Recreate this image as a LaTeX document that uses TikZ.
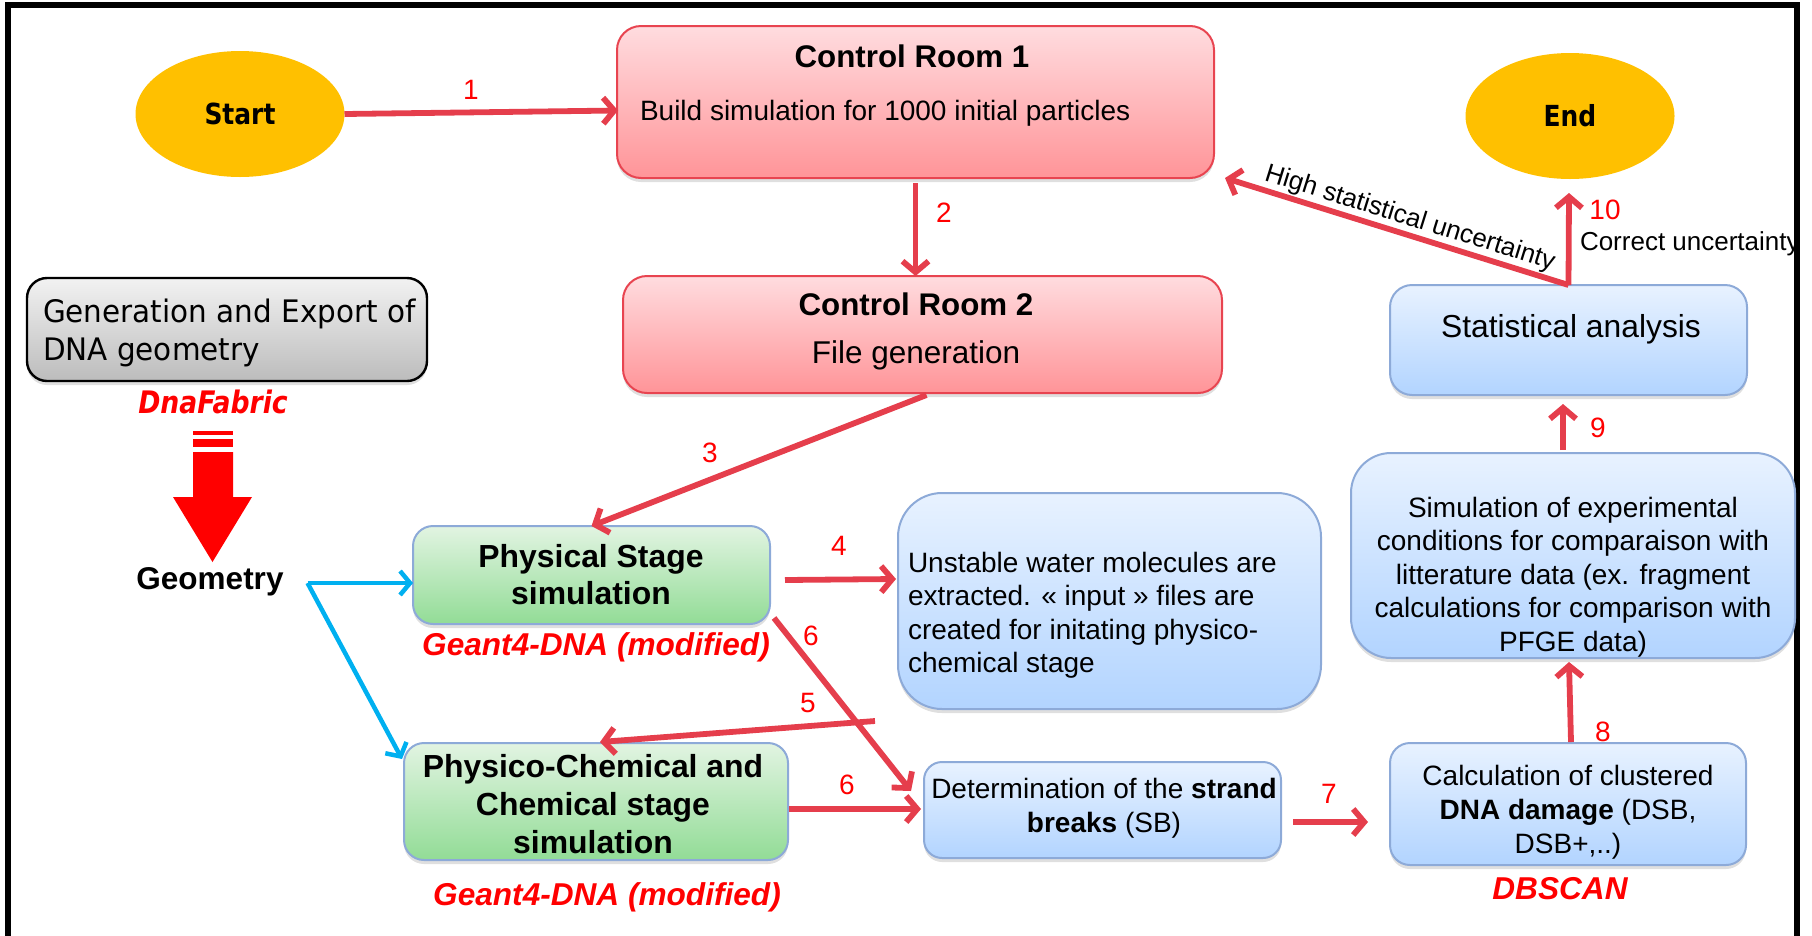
\documentclass[tikz,border=0pt]{standalone}
\usepackage{fontspec}
\setmainfont{Liberation Sans}
\newfontfamily\tahreg[FakeStretch=0.95]{DejaVu Sans}
\newfontfamily\tahbold[FakeStretch=0.86]{DejaVu Sans}
\usetikzlibrary{arrows.meta,shapes.geometric,shadows,calc}
\definecolor{arrred}{RGB}{229,62,76}
\definecolor{lblred}{RGB}{255,0,0}
\definecolor{yel}{RGB}{255,192,0}
\definecolor{pinktop}{RGB}{255,220,223}
\definecolor{pinkbot}{RGB}{255,148,152}
\definecolor{pinkline}{RGB}{232,68,80}
\definecolor{greentop}{RGB}{226,244,226}
\definecolor{greenbot}{RGB}{146,220,150}
\definecolor{bluetop}{RGB}{232,242,255}
\definecolor{bluebot}{RGB}{178,212,255}
\definecolor{boxline}{RGB}{141,170,216}
\definecolor{graytop}{RGB}{242,242,242}
\definecolor{graybot}{RGB}{188,188,188}
\definecolor{cyanarr}{RGB}{0,176,240}
\newcommand\myfs[2]{\fontsize{#1}{#2}\selectfont}
\begin{document}
\begin{tikzpicture}[x=1pt,y=-1pt,
  every node/.style={inner sep=0pt,outer sep=0pt},
  sh/.style={drop shadow={opacity=0.25,shadow xshift=0pt,shadow yshift=-4pt}},
  pinkbox/.style={rectangle,draw=pinkline,line width=2pt,top color=pinktop,bottom color=pinkbot,rounded corners=24pt,sh},
  greenbox/.style={rectangle,draw=boxline,line width=2pt,top color=greentop,bottom color=greenbot,rounded corners=20pt,sh},
  bluebox/.style={rectangle,draw=boxline,line width=2pt,top color=bluetop,bottom color=bluebot,rounded corners=#1,sh},
  bluebox/.default=20pt,
  graybox/.style={rectangle,draw=black,line width=2.4pt,top color=graytop,bottom color=graybot,rounded corners=20pt,sh},
  oval/.style={ellipse,fill=yel,minimum width=209pt,minimum height=126pt,font=\tahbold\bfseries\myfs{29}{34}},
  redarr/.style={draw=arrred,line width=5.8pt,-{Straight Barb[length=11pt,width=26pt]}},
  bluearr/.style={draw=cyanarr,line width=4.5pt,-{Straight Barb[length=10pt,width=24pt]}},
  num/.style={text=lblred,font=\myfs{28}{33}},
  tool/.style={text=lblred,font=\bfseries\itshape\myfs{31.6}{38}},
  plain/.style={font=\myfs{28}{33.5}},
]
\useasboundingbox (0,0) rectangle (1812,935);
% frame
\draw[line width=5.5pt] (8,945) -- (8,5) -- (1797,5) -- (1797,945);

% terminals
\node[oval] (start) at (240,114) {Start};
\node[oval] (end) at (1570,116) {End};

% control rooms
\node[pinkbox,minimum width=597pt,minimum height=152pt] (cr1) at (915.5,102) {};
\node[font=\bfseries\myfs{31.3}{37},anchor=base] (cr1t) at (912,67) {Control Room 1};
\node[font=\myfs{28}{33},anchor=base west] (cr1b) at (640,120) {Build simulation for 1000 initial particles};
\node[pinkbox,minimum width=599pt,minimum height=117pt] (cr2) at (922.5,334.5) {};
\node[font=\bfseries\myfs{31.3}{37},anchor=base] (cr2t) at (916,315) {Control Room 2};
\node[font=\myfs{31.5}{37},anchor=base] (cr2b) at (916,363) {File generation};

% DNA geometry
\node[graybox,minimum width=400pt,minimum height=103pt] (gen) at (227,329.5) {};
\node[font=\tahreg\myfs{31}{38},align=left,anchor=west] (gent) at (43,332.5) {Generation and Export of\\DNA geometry};
\node[text=lblred,font=\tahbold\bfseries\itshape\myfs{31}{36}] (dnaf) at (213,402) {DnaFabric};
\fill[red] (193,431) rectangle (233,435);
\fill[red] (193,439) rectangle (233,447);
\fill[red] (193,452) -- (233,452) -- (233,497) -- (252,497) -- (212.5,562) -- (173,497) -- (193,497) -- cycle;
\node[font=\bfseries\myfs{31.5}{37}] (geo) at (210,582) {Geometry};
\coordinate (gsrc) at ($(geo.east)+(24,1)$);

% simulation stages
\node[greenbox,minimum width=357pt,minimum height=98pt] (phys) at (591.5,575) {};
\node[font=\bfseries\myfs{31.9}{37},align=center] (physt) at (591,575) {Physical Stage\\simulation};
\node[tool] (g4a) at (596,647) {Geant4-DNA (modified)};
\node[greenbox,minimum width=384pt,minimum height=117pt] (pchem) at (596,801.5) {};
\node[font=\bfseries\myfs{31.9}{38},align=center] (pchemt) at (593,804) {Physico-Chemical and\\Chemical stage\\simulation};
\node[tool] (g4b) at (607,897) {Geant4-DNA (modified)};

% blue boxes
\node[bluebox=44pt,minimum width=423pt,minimum height=216pt] (unst) at (1109.5,601) {};
\node[plain,align=left,anchor=west] (unstt) at (908,615) {Unstable water molecules are\\extracted. « input » files are\\created for initating physico-\\chemical stage};
\node[bluebox=18pt,minimum width=357pt,minimum height=96pt] (det) at (1102.5,810) {};
\node[plain,align=center] (dett) at (1104,808) {Determination of the \textbf{strand}\\\textbf{breaks} (SB)};
\node[bluebox=20pt,minimum width=356pt,minimum height=122pt] (clus) at (1568,804) {};
\node[font=\myfs{28}{34},align=center] (clust) at (1568,812) {Calculation of clustered\\\textbf{DNA damage} (DSB,\\DSB+,..)};
\node[tool] (dbs) at (1560,889) {DBSCAN};
\node[bluebox=40pt,minimum width=444pt,minimum height=205pt] (sim) at (1573,555.5) {};
\node[plain,align=center] (simt) at (1573,577) {Simulation of experimental\\conditions for comparaison with\\litterature data (ex. fragment\\calculations for comparison with\\PFGE data)};
\node[bluebox=22pt,minimum width=357pt,minimum height=110pt] (stat) at (1568.5,340) {};
\node[font=\myfs{31.8}{37}] (statt) at (1571,329) {Statistical analysis};

% connectors
\draw[redarr] (start.east) -- ($(cr1.west)+(1,8.5)$);
\draw[redarr] ($(cr1.south)+(0,5)$) -- (cr1.south |- cr2.north);
\draw[redarr] ($(cr2.south)+(4,2)$) -- (phys.north);
\draw[redarr] ($(phys.east)+(15,5)$) -- ($(unst.west)+(-2,-22)$);
\coordinate (c5) at (875,721);
\draw[redarr] (c5) -- ($(pchem.north)+(4,-1)$);
\draw[redarr] ($(phys.south east)+(4,-6)$) -- ($(det.west)+(-13,-19)$);
\draw[redarr] ($(pchem.east)+(1,7.5)$) -- ($(det.west)+(-3,-1)$);
\draw[redarr] ($(det.east)+(12,12)$) -- ($(clus.west)+(-22,18)$);
\draw[redarr] ($(clus.north)+(3,-1)$) -- ($(sim.south)+(-4,4)$);
\draw[redarr] ($(sim.north)+(-10,-3)$) -- ($(stat.south)+(-5.5,9)$);
\draw[redarr] (stat.north) -- ($(end.south)+(-1,14)$);
\draw[redarr] (stat.north) -- ($(cr1.south east)+(11,0)$)
  node[pos=0.476,sloped,above=4pt,font=\myfs{26}{30}] (hsu) {High statistical uncertainty};
\node[font=\myfs{26}{30},anchor=base west] (cu) at (1580,250) {Correct uncertainty};
\draw[bluearr] (gsrc) -- (phys.west |- gsrc);
\draw[bluearr] (gsrc) -- ($(pchem.north west)+(-2,16)$);

% step numbers
\node[num] (n1) at (471,90) {1};
\node[num] (n2) at (944,213) {2};
\node[num] (n3) at (710,453) {3};
\node[num] (n4) at (839,546) {4};
\node[num] (n5) at (808,703) {5};
\node[num] (n6a) at (811,636) {6};
\node[num] (n6b) at (847,785) {6};
\node[num] (n7) at (1329,794) {7};
\node[num] (n8) at (1603,732) {8};
\node[num] (n9) at (1598,428) {9};
\node[num] (n10) at (1605,210) {10};
\end{tikzpicture}
\end{document}
